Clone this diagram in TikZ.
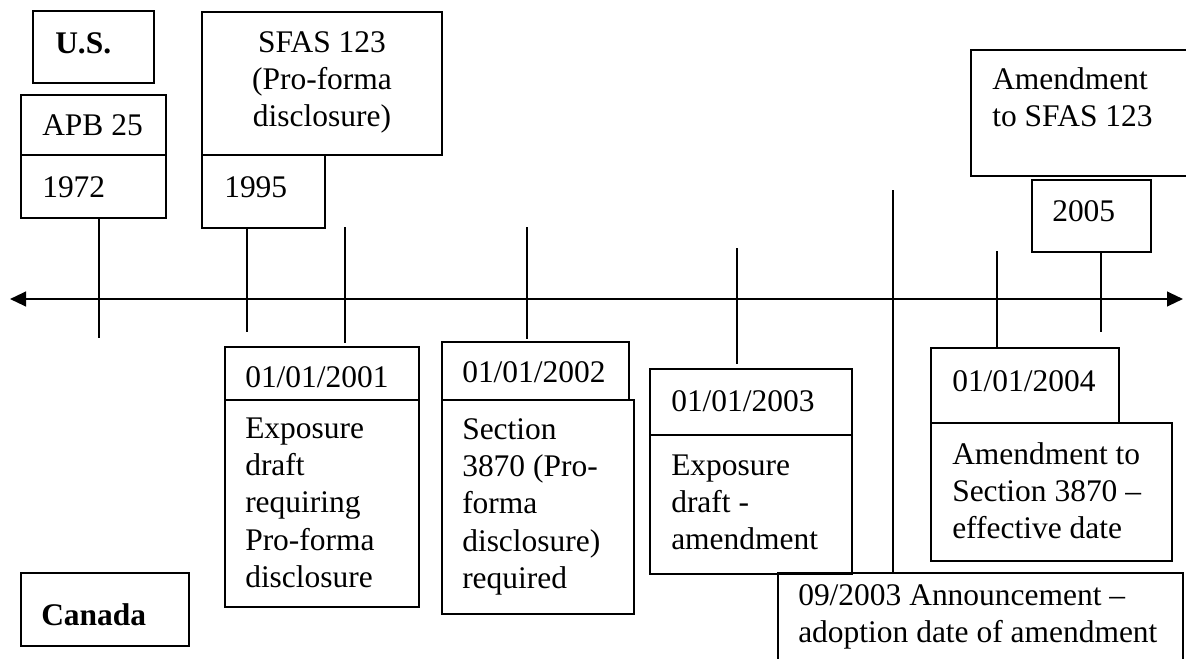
\documentclass[tikz,border=0pt]{standalone}
\usepackage{fontspec}
\setmainfont{Liberation Serif}
\usetikzlibrary{arrows.meta,fit}
\tikzset{
  box/.style={draw=black, line width=1.05pt, inner sep=0pt},
  txt/.style={inner sep=0pt, anchor=base west},
  conn/.style={draw=black, line width=1.05pt},
  axisline/.style={draw=black, line width=1.6pt, {Triangle[length=12pt,width=11pt]}-{Triangle[length=12pt,width=11pt]}}
}
\newcommand{\ml}[1]{\begin{tabular}[t]{@{}l@{}}#1\end{tabular}}
\newcommand{\mc}[1]{\begin{tabular}[t]{@{}c@{}}#1\end{tabular}}
\begin{document}
\begin{tikzpicture}[x=0.75pt,y=-0.75pt,font=\fontsize{23.6}{28.1}\selectfont]
\useasboundingbox (0,0) rectangle (1186,658);
\clip (0,0) rectangle (1186,658);
% ---- boxes ----
\node[box, fit={(33,11)(154,83)}] (us) {};
\node[box, fit={(21,95)(166,155)}] (apb) {};
\node[box, fit={(21,155)(166,218)}] (y1972) {};
\node[box, fit={(202,12)(442,155)}] (sfas) {};
\node[box, fit={(202,155)(325,228)}] (y1995) {};
\node[box, fit={(971,50)(1200,176)}] (amd) {};
\node[box, fit={(1032,180)(1151,252)}] (y2005) {};
\node[box, fit={(225,347)(419,400)}] (d2001) {};
\node[box, fit={(225,400)(419,607)}] (e2001) {};
\node[box, fit={(442,342)(629,400)}] (d2002) {};
\node[box, fit={(442,400)(634,614)}] (e2002) {};
\node[box, fit={(650,369)(852,435)}] (d2003) {};
\node[box, fit={(650,435)(852,574)}] (e2003) {};
\node[box, fit={(931,348)(1119,423)}] (d2004) {};
\node[box, fit={(931,423)(1172,561)}] (e2004) {};
\node[box, fit={(778,573)(1183,700)}] (a0903) {};
\node[box, fit={(21,573)(189,646)}] (canada) {};
% ---- texts ----
\node[txt] (tus) at (55,53) {\textbf{U.S.}};
\node[txt] (tapb) at (42,135) {APB 25};
\node[txt] (t1972) at (42,197) {1972};
\node[inner sep=0pt, anchor=base] (tsfas) at (322,52) {\mc{SFAS 123\\(Pro-forma\\disclosure)}};
\node[txt] (t1995) at (224,197) {1995};
\node[txt] (tamd) at (992,89) {\ml{Amendment\\to SFAS 123}};
\node[txt] (t2005) at (1052,221) {2005};
\node[txt] (td2001) at (245,387) {01/01/2001};
\node[txt] (te2001) at (245,438) {\ml{Exposure\\draft\\requiring\\Pro-forma\\disclosure}};
\node[txt] (td2002) at (462,382) {01/01/2002};
\node[txt] (te2002) at (462,439) {\ml{Section\\3870 (Pro-\\forma\\disclosure)\\required}};
\node[txt] (td2003) at (671,411) {01/01/2003};
\node[txt] (te2003) at (671,475) {\ml{Exposure\\draft -\\amendment}};
\node[txt] (td2004) at (952,391) {01/01/2004};
\node[txt] (te2004) at (952,464) {\ml{Amendment to\\Section 3870 –\\effective date}};
\node[txt] (ta0903) at (798,605) {\ml{09/2003 Announcement –\\adoption date of amendment}};
\node[txt] (tcanada) at (41,625) {\textbf{Canada}};
% ---- axis ----
\coordinate (axl) at (10,299);
\coordinate (axr) at (1183,299);
\draw[axisline] (axl) -- (axr);
% ---- connectors ----
\coordinate (c1972) at (99,338);
\coordinate (c1995) at (247,332);
\coordinate (t2001) at (345,227);
\coordinate (b2001) at (345,343);
\coordinate (t2002) at (527,227);
\coordinate (b2002) at (527,339);
\coordinate (t2003) at (737,248);
\coordinate (b2003) at (737,364);
\coordinate (t0903) at (893,190);
\coordinate (t2004) at (997,251);
\coordinate (c2005) at (1101,332);
\draw[conn] (y1972.south -| c1972) -- (c1972);
\draw[conn] (y1995.south -| c1995) -- (c1995);
\draw[conn] (t2001) -- (b2001);
\draw[conn] (t2002) -- (b2002);
\draw[conn] (t2003) -- (b2003);
\draw[conn] (t0903) -- (a0903.north -| t0903);
\draw[conn] (t2004) -- (d2004.north -| t2004);
\draw[conn] (y2005.south -| c2005) -- (c2005);
\end{tikzpicture}
\end{document}
